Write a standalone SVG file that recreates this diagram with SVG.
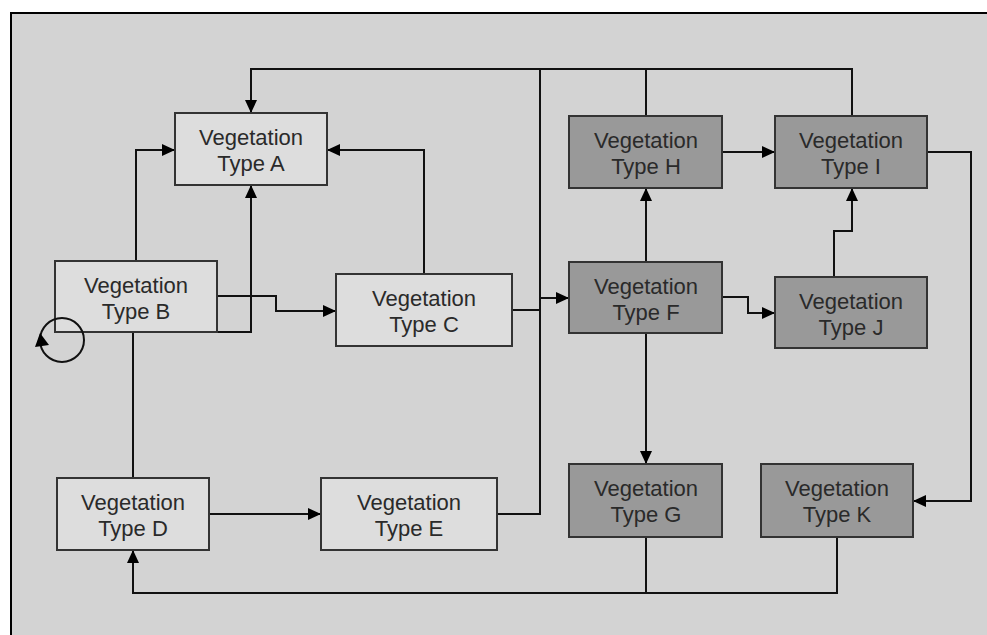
<svg xmlns="http://www.w3.org/2000/svg" width="987" height="635" viewBox="0 0 987 635">
<style>
.light{fill:#dddddd;stroke:#333;stroke-width:2}
.dark{fill:#999999;stroke:#333;stroke-width:2}
text{font-family:"Liberation Sans",Arial,sans-serif;font-size:22px;fill:#2a2a2a;text-anchor:middle}
.c{fill:none;stroke:#111;stroke-width:2}
</style>
<defs>
<marker id="ah" markerUnits="userSpaceOnUse" markerWidth="13" markerHeight="12" refX="13" refY="6" orient="auto">
<path d="M0,0 L13,6 L0,12 z" fill="#000"/>
</marker>
</defs>
<rect x="0" y="0" width="987" height="635" fill="#fff"/>
<rect x="11" y="13" width="990" height="640" fill="#d3d3d3" stroke="#000" stroke-width="2"/>
<g id="connectors">
<path class="c" d="M646,116 V69 H251 V113" marker-end="url(#ah)"/>
<path class="c" d="M852,116 V69 H646"/>
<path class="c" d="M497,514 H540 V69"/>
<path class="c" d="M512,310 H540 V298 H569" marker-end="url(#ah)"/>
<path class="c" d="M136,261 V150 H175" marker-end="url(#ah)"/>
<path class="c" d="M424,274 V150 H327" marker-end="url(#ah)"/>
<path class="c" d="M217,332 H251 V185" marker-end="url(#ah)"/>
<path class="c" d="M217,296 H276 V311 H336" marker-end="url(#ah)"/>
<path class="c" d="M133,478 V332"/>
<path class="c" d="M209,514 H321" marker-end="url(#ah)"/>
<path class="c" d="M646,537 V593 H133 V550" marker-end="url(#ah)"/>
<path class="c" d="M837,537 V593 H646"/>
<path class="c" d="M646,333 V464" marker-end="url(#ah)"/>
<path class="c" d="M646,262 V188" marker-end="url(#ah)"/>
<path class="c" d="M722,152 H775" marker-end="url(#ah)"/>
<path class="c" d="M722,297 H748 V313 H775" marker-end="url(#ah)"/>
<path class="c" d="M834,277 V231 H852 V188" marker-end="url(#ah)"/>
<path class="c" d="M927,152 H971 V501 H913" marker-end="url(#ah)"/>
</g>
<g id="A"><rect class="light" x="175" y="113" width="152" height="72"/><text x="251" y="145">Vegetation</text><text x="251" y="171">Type A</text></g>
<g id="B"><rect class="light" x="55" y="261" width="162" height="71"/><text x="136" y="293">Vegetation</text><text x="136" y="319">Type B</text></g>
<g id="C"><rect class="light" x="336" y="274" width="176" height="72"/><text x="424" y="306">Vegetation</text><text x="424" y="332">Type C</text></g>
<g id="D"><rect class="light" x="57" y="478" width="152" height="72"/><text x="133" y="510">Vegetation</text><text x="133" y="536">Type D</text></g>
<g id="E"><rect class="light" x="321" y="478" width="176" height="72"/><text x="409" y="510">Vegetation</text><text x="409" y="536">Type E</text></g>
<g id="F"><rect class="dark" x="569" y="262" width="153" height="71"/><text x="646" y="294">Vegetation</text><text x="646" y="320">Type F</text></g>
<g id="G"><rect class="dark" x="569" y="464" width="153" height="73"/><text x="646" y="496">Vegetation</text><text x="646" y="522">Type G</text></g>
<g id="H"><rect class="dark" x="569" y="116" width="153" height="72"/><text x="646" y="148">Vegetation</text><text x="646" y="174">Type H</text></g>
<g id="I"><rect class="dark" x="775" y="116" width="152" height="72"/><text x="851" y="148">Vegetation</text><text x="851" y="174">Type I</text></g>
<g id="J"><rect class="dark" x="775" y="277" width="152" height="71"/><text x="851" y="309">Vegetation</text><text x="851" y="335">Type J</text></g>
<g id="K"><rect class="dark" x="761" y="464" width="152" height="73"/><text x="837" y="496">Vegetation</text><text x="837" y="522">Type K</text></g>
<g id="selfloop">
<circle cx="62" cy="340" r="22" fill="none" stroke="#111" stroke-width="2"/>
<path d="M40,333 L35,347 L49,345 z" fill="#000"/>
</g>
</svg>
